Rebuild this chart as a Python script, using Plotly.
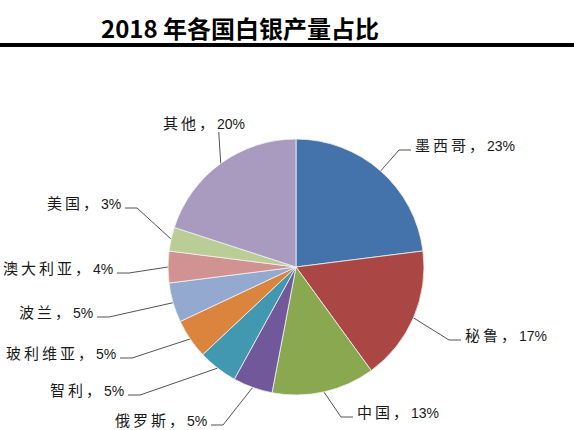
import math
import plotly.graph_objects as go

# 2018 silver output share by country
countries = ['墨西哥', '秘鲁', '中国', '俄罗斯', '智利', '玻利维亚', '波兰', '澳大利亚', '美国', '其他']
shares = [23, 17, 13, 5, 5, 5, 5, 4, 3, 20]
colors = ['#4472AA', '#AA4644', '#8AA84F', '#71589A', '#4198B0',
          '#DB843D', '#93A9D0', '#D09391', '#BACD96', '#A89BBF']

# label placement (pixels from top-left) and which side the text sits on
label_pos = [(413, 145, 'left'), (463, 335, 'left'), (355, 412, 'left'),
             (209, 420, 'right'), (126, 390, 'right'), (118, 353, 'right'),
             (95, 312, 'right'), (115, 268, 'right'), (123, 203, 'right'),
             (204, 123, 'center')]

W, H = 574, 430
CX, CY, R = 296, 267, 128


def edge_point(start, value, total):
    """Point on the rim at the middle of a slice (clockwise from 12 o'clock)."""
    ang = 2 * math.pi * (start + value / 2) / total
    return CX + R * math.sin(ang), CY - R * math.cos(ang)


fig = go.Figure()

fig.add_trace(go.Pie(
    labels=countries,
    values=shares,
    sort=False,
    direction='clockwise',
    rotation=0,
    textinfo='none',
    hoverinfo='label+percent',
    marker=dict(colors=colors, line=dict(color='#F2F2F2', width=0.8)),
    domain=dict(x=[(CX - R) / W, (CX + R) / W],
                y=[(H - CY - R) / H, (H - CY + R) / H]),
    showlegend=False,
))

# leader lines and labels
total = sum(shares)
cum = 0
for name, val, (tx, ty, side) in zip(countries, shares, label_pos):
    ex, ey = edge_point(cum, val, total)
    cum += val
    if side == 'center':
        xs, ys = [ex - 2, ex], [ty + 9, ey]
    elif side == 'right':
        xs, ys = [tx + 2, tx + 14, ex], [ty + 5, ty + 5, ey]
    else:
        xs, ys = [tx - 2, tx - 14, ex], [ty + 5, ty + 5, ey]
    fig.add_trace(go.Scatter(x=xs, y=ys, mode='lines', hoverinfo='skip',
                             line=dict(color='#404040', width=0.9), showlegend=False))
    label = (f'<span style="font-size:15px;letter-spacing:3px">{name}，</span>{val}%')
    fig.add_annotation(x=tx, y=ty, xref='x', yref='y', text=label,
                       showarrow=False, xanchor=side, yanchor='middle',
                       font=dict(size=14, color='#1A1A1A',
                                 family='Liberation Sans, Noto Sans CJK SC'))

# title and rule below it
fig.add_annotation(x=240, y=27, xref='x', yref='y', text='<b>2018 年各国白银产量占比</b>',
                   showarrow=False, xanchor='center', yanchor='middle',
                   font=dict(size=24, color='black', family='Noto Sans CJK SC'))
fig.add_shape(type='line', xref='x', yref='y', x0=0, x1=W, y0=45, y1=45,
              line=dict(color='black', width=4))

fig.update_layout(
    width=W, height=H,
    margin=dict(l=0, r=0, t=0, b=0),
    paper_bgcolor='white',
    plot_bgcolor='white',
    xaxis=dict(range=[0, W], visible=False, fixedrange=True),
    yaxis=dict(range=[H, 0], visible=False, fixedrange=True),
)

# drop the page's default body margin so the figure sits at the window corner
fig.write_html('out.html', config={'displayModeBar': False},
               post_script="document.body.style.margin='0';document.body.style.overflow='hidden';")
